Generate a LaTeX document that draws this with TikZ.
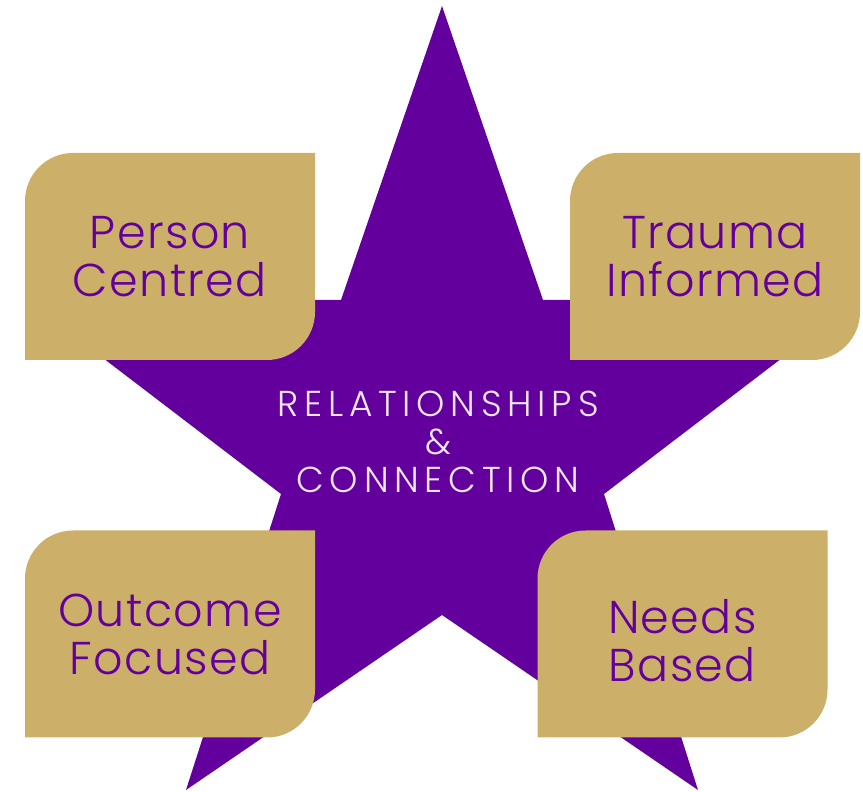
\documentclass[tikz,border=0pt]{standalone}
\usepackage{fontspec}
\setmainfont{Poppins}[UprightFont=* Light]
\usepackage{xcolor}
\usepackage{tikz}
\usetikzlibrary{backgrounds}
\tikzset{leafbox/.style = {minimum width=290pt, minimum height=207pt, inner sep=0pt, outer sep=0pt,
    align=center, text=starColor, font=\fontsize{46}{48}\selectfont\addfontfeatures{LetterSpace=3}}}
\newcommand{\lowerby}[1]{\raisebox{-7pt}[\height][\depth]{#1}}

\begin{document}
\begin{tikzpicture}[x=1pt,y=1pt]
\definecolor{starColor}{RGB}{99,0,157}
\definecolor{goldColor}{RGB}{204,175,105}
\definecolor{hubColor}{RGB}{240,230,246}
\path[use as bounding box] (0,0) rectangle (863,792);

\node[leafbox] (pc) at (170.0,535.5) {Person\\Centred};
\node[leafbox] (ti) at (715.0,535.5) {Trauma\\Informed};
\node[leafbox] (of) at (170.0,158.0) {Outcome\\Focused};
\node[leafbox] (nb) at (682.5,158.0) {\lowerby{Needs}\\\lowerby{Based}};

\node[text=hubColor,align=center,inner sep=0pt,font=\fontsize{36}{38}\selectfont\addfontfeatures{LetterSpace=16}] (hub) at (438.0,350.0)
  {RELATIONSHIPS\\\&\\CONNECTION};

\begin{scope}[on background layer]
\path[fill=starColor] (442,786) -- (543,492) -- (858,492) -- (604,298) -- (698,  2) -- (442,177)
  -- (186,  2) -- (281,298) -- ( 27,492) -- (341,492) -- cycle;
\foreach \n in {pc,ti,of,nb}
  \path[fill=goldColor] (\n.south west) -- ([yshift=-48pt]\n.north west)
    arc[start angle=180,end angle=90,radius=48pt] -- (\n.north east)
    -- ([yshift=48pt]\n.south east) arc[start angle=0,end angle=-90,radius=48pt] -- cycle;
\end{scope}
\end{tikzpicture}
\end{document}
